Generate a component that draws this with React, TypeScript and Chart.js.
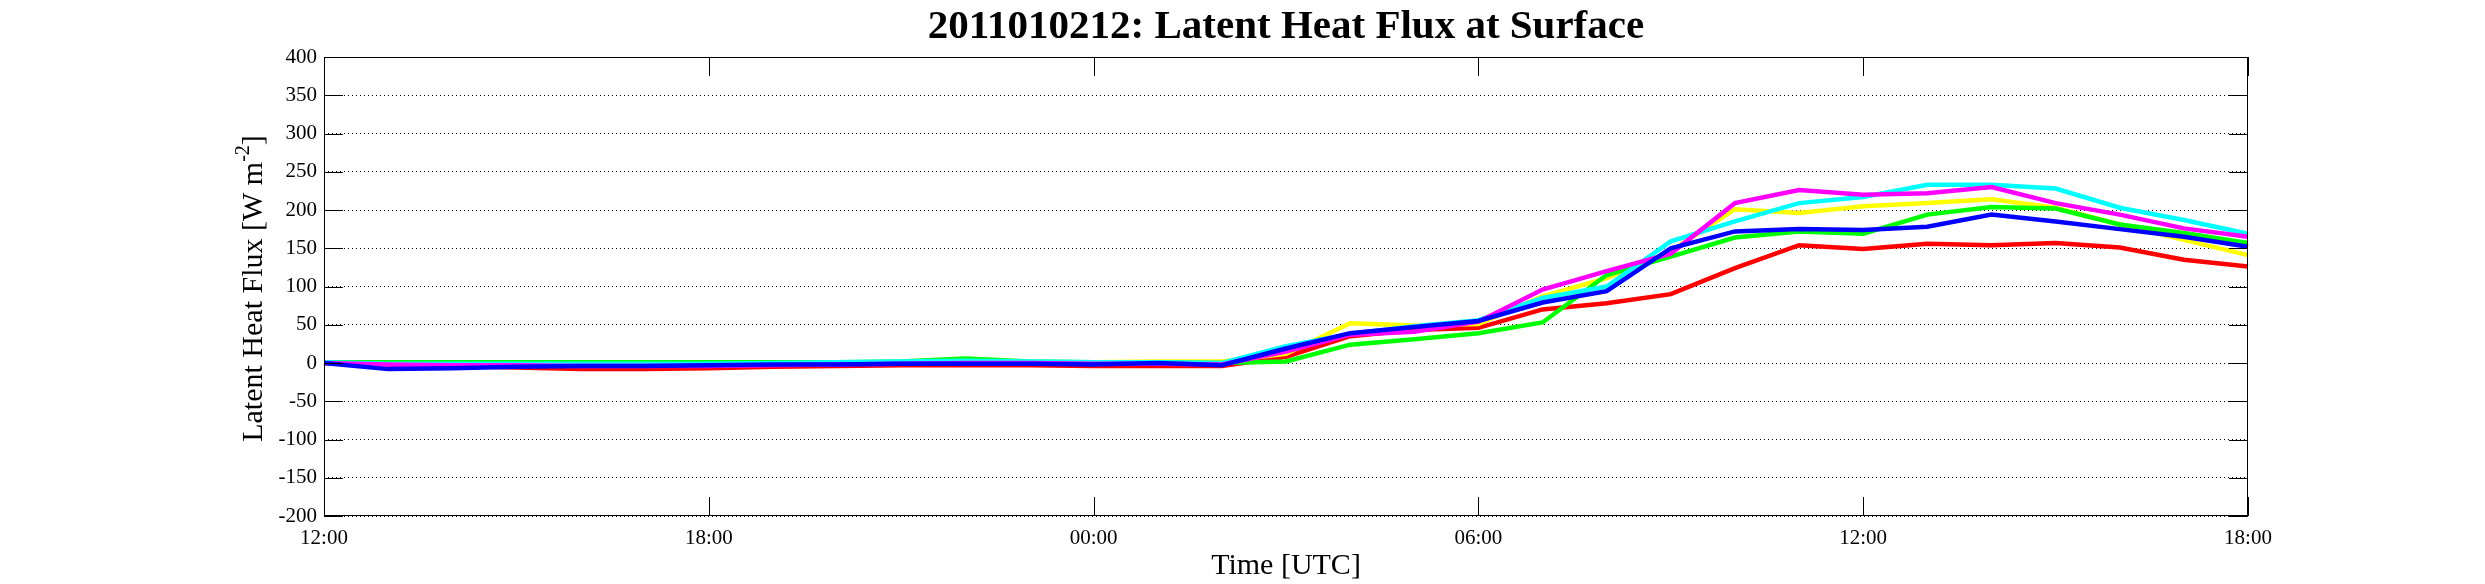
import { useEffect, useRef } from 'react';
import Chart from 'chart.js/auto';

// WRF-style surface latent heat flux, six members, hourly from 12:00 to 18:00 (+30 h).
const TITLE = '2011010212: Latent Heat Flux at Surface';
const X_TITLE = 'Time [UTC]';
const Y_TITLE = 'Latent Heat Flux [W m';
const Y_TITLE_SUP = '-2';

const TIMES = [
  '12:00', '13:00', '14:00', '15:00', '16:00', '17:00', '18:00', '19:00', '20:00', '21:00',
  '22:00', '23:00', '00:00', '01:00', '02:00', '03:00', '04:00', '05:00', '06:00', '07:00',
  '08:00', '09:00', '10:00', '11:00', '12:00', '13:00', '14:00', '15:00', '16:00', '17:00',
  '18:00',
];

const RED = [0, -2, -4, -6, -8, -8, -7, -5, -4, -3, -3, -3, -4, -4, -4,
  8, 35, 43, 46, 70, 78, 90, 124, 154, 149, 156, 154, 157, 151, 135, 126];
const GREEN = [1, 1, 1, 1, 1, 1, 1, 1, 1, 2, 6, 2, 1, 1, 0,
  2, 24, 31, 39, 53, 115, 139, 164, 172, 169, 194, 204, 202, 181, 170, 157];
const BLUE = [0, -8, -7, -5, -4, -4, -3, -2, -2, -1, -1, -1, -2, 0, -3,
  19, 39, 47, 55, 79, 94, 150, 172, 175, 174, 178, 194, 185, 175, 165, 152];
const CYAN = [1, -1, -1, -1, -1, -1, -1, 0, 1, 2, 3, 2, 1, 1, 0,
  22, 38, 48, 56, 85, 100, 159, 185, 209, 217, 233, 233, 228, 203, 187, 169];
const MAGENTA = [0, -2, -3, -3, -4, -4, -4, -3, -2, -1, 0, 0, -1, -1, -2,
  15, 37, 41, 54, 96, 120, 143, 209, 226, 220, 222, 230, 209, 194, 176, 165];
const YELLOW = [1, 0, -1, -1, -1, -1, -1, 0, 0, 1, 2, 1, 1, 2, 2,
  12, 52, 49, 51, 87, 111, 146, 201, 196, 205, 209, 214, 203, 181, 161, 141];

const Y_MIN = -200;
const Y_MAX = 400;
const Y_STEP = 50;
const X_TICK_EVERY = 6;

const FONT = '"Liberation Serif", "Times New Roman", serif';
const TICK_LEN = 19;

// box, inward ticks on all four sides, titles
const framePlugin = {
  id: 'matlabFrame',
  afterDraw(chart: any) {
    const { ctx, chartArea: a, scales } = chart;
    const x = scales.x;
    const y = scales.y;
    ctx.save();
    ctx.strokeStyle = '#000';
    ctx.lineWidth = 1;
    ctx.strokeRect(a.left + 0.5, a.top + 0.5, a.right - a.left - 1, a.bottom - a.top - 1);

    ctx.beginPath();
    y.ticks.forEach((t: any) => {
      const py = Math.round(y.getPixelForValue(t.value)) + 0.5;
      ctx.moveTo(a.left, py);
      ctx.lineTo(a.left + TICK_LEN, py);
      ctx.moveTo(a.right, py);
      ctx.lineTo(a.right - TICK_LEN, py);
    });
    x.ticks.forEach((t: any, i: number) => {
      if (i % X_TICK_EVERY !== 0) return;
      const px = Math.round(x.getPixelForValue(t.value)) + 0.5;
      ctx.moveTo(px, a.top);
      ctx.lineTo(px, a.top + TICK_LEN);
      ctx.moveTo(px, a.bottom);
      ctx.lineTo(px, a.bottom - TICK_LEN);
    });
    ctx.stroke();

    const cx = (a.left + a.right) / 2;
    const cy = (a.top + a.bottom) / 2;
    ctx.fillStyle = '#000';
    ctx.textAlign = 'center';
    ctx.textBaseline = 'middle';
    ctx.font = `bold 41px ${FONT}`;
    ctx.fillText(TITLE, cx, 27);

    ctx.font = `30px ${FONT}`;
    ctx.fillText(X_TITLE, cx, 566);

    // rotated y title with a superscript
    ctx.translate(262, cy + 2);
    ctx.rotate(-Math.PI / 2);
    ctx.textBaseline = 'alphabetic';
    ctx.textAlign = 'left';
    ctx.font = `30px ${FONT}`;
    const w1 = ctx.measureText(Y_TITLE).width;
    ctx.font = `20px ${FONT}`;
    const w2 = ctx.measureText(Y_TITLE_SUP).width;
    ctx.font = `30px ${FONT}`;
    const w3 = ctx.measureText(']').width;
    const start = -(w1 + w2 + w3) / 2;
    ctx.fillText(Y_TITLE, start, 0);
    ctx.font = `20px ${FONT}`;
    ctx.fillText(Y_TITLE_SUP, start + w1, -13);
    ctx.font = `30px ${FONT}`;
    ctx.fillText(']', start + w1 + w2, 0);
    ctx.restore();
  },
};

export default function App() {
  const canvasRef = useRef<HTMLCanvasElement | null>(null);

  useEffect(() => {
    const el = canvasRef.current;
    if (!el) return;

    const series = [
      { data: BLUE, color: '#0000ff' },
      { data: MAGENTA, color: '#ff00ff' },
      { data: CYAN, color: '#00ffff' },
      { data: GREEN, color: '#00ff00' },
      { data: YELLOW, color: '#ffff00' },
      { data: RED, color: '#ff0000' },
    ];

    const chart = new Chart(el, {
      type: 'line',
      data: {
        labels: TIMES,
        datasets: series.map((s) => ({
          data: s.data,
          borderColor: s.color,
          backgroundColor: s.color,
          borderWidth: 4.5,
          pointRadius: 0,
          tension: 0,
          fill: false,
        })),
      },
      options: {
        animation: false,
        responsive: true,
        maintainAspectRatio: false,
        events: [],
        layout: { padding: { left: 0, right: 237, top: 57, bottom: 0 } },
        plugins: {
          legend: { display: false },
          title: { display: false },
          tooltip: { enabled: false },
        },
        scales: {
          x: {
            type: 'category',
            offset: false,
            grid: { display: false },
            border: { display: false },
            ticks: {
              autoSkip: false,
              maxRotation: 0,
              color: '#000',
              padding: 2,
              font: { family: FONT, size: 21 },
              callback: (_v: any, i: number) => (i % X_TICK_EVERY === 0 ? TIMES[i] : ''),
            },
            afterFit: (s: any) => {
              s.height = 68;
            },
          },
          y: {
            min: Y_MIN,
            max: Y_MAX,
            grid: { color: '#000', lineWidth: 1, drawTicks: false },
            border: { display: false, dash: [1, 3] },
            ticks: {
              stepSize: Y_STEP,
              color: '#000',
              padding: 7,
              font: { family: FONT, size: 21 },
            },
            afterFit: (s: any) => {
              s.width = 324;
            },
          },
        },
      },
      plugins: [framePlugin],
    });

    return () => chart.destroy();
  }, []);

  return (
    <div style={{ position: 'fixed', left: 0, top: 0, width: 2485, height: 584, background: '#fff' }}>
      <canvas ref={canvasRef} />
    </div>
  );
}
